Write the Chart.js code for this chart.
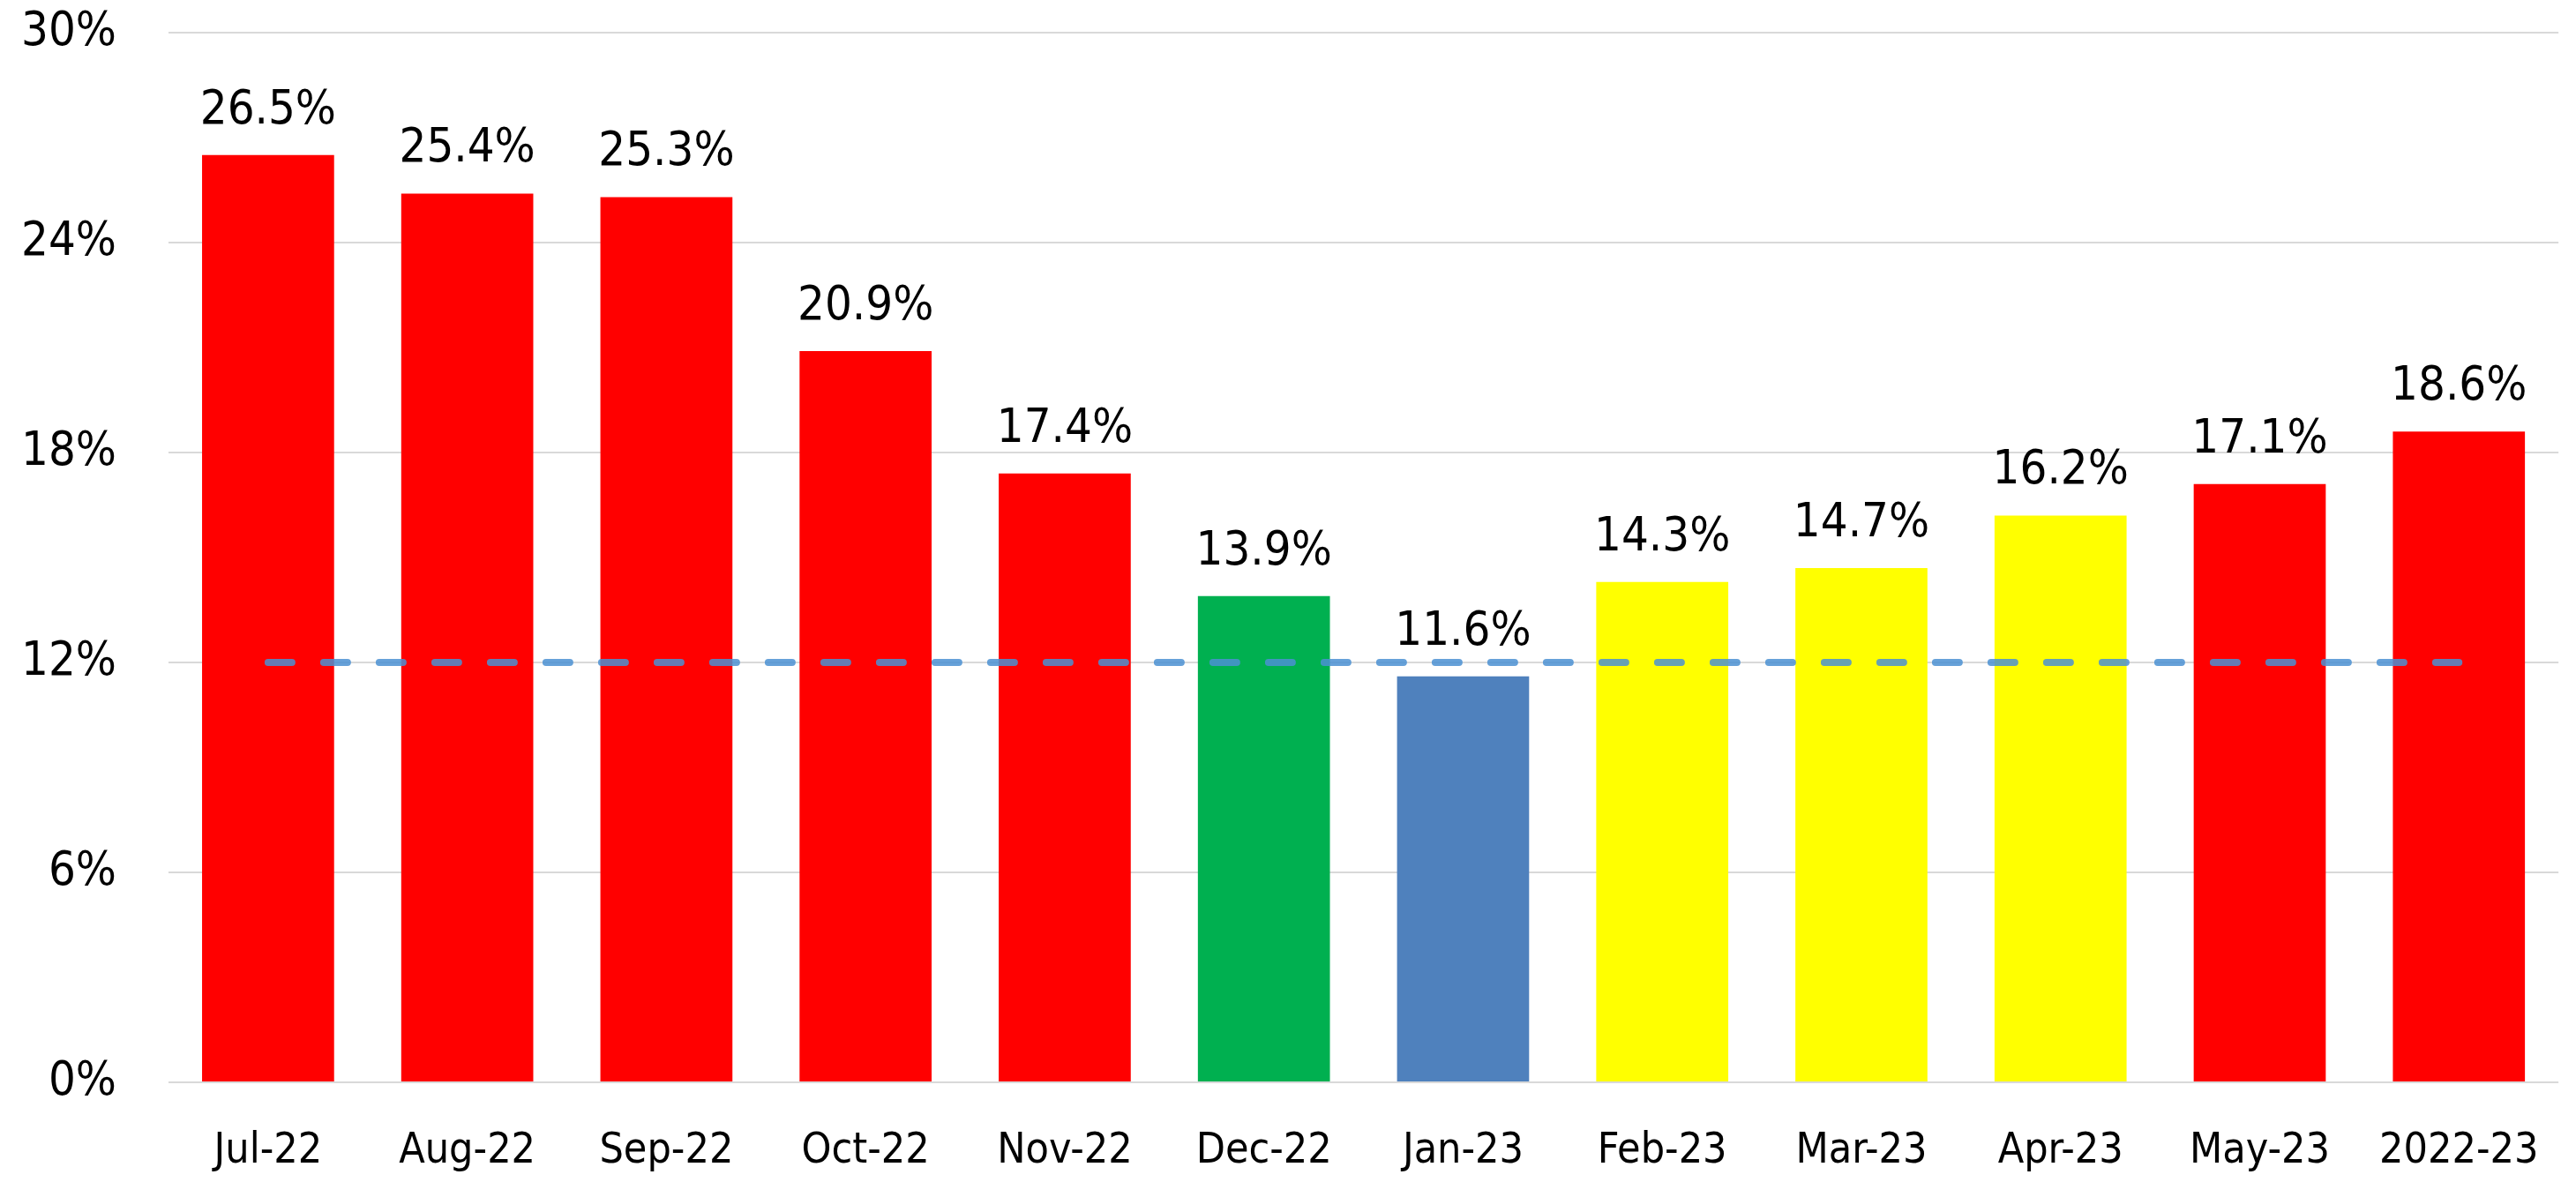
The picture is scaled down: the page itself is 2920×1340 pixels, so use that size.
<!DOCTYPE html>
<html>
<head>
<meta charset="utf-8">
<script src="https://cdn.jsdelivr.net/npm/chart.js@4.4.0/dist/chart.umd.min.js"></script>
<style>
  html, body { margin: 0; padding: 0; background: #fff; }
  #wrap { width: 2920px; height: 1340px; }
</style>
</head>
<body>
<div id="wrap"><canvas id="rateChart"></canvas></div>
<script>
// months + full year
const labels = ["Jul-22", "Aug-22", "Sep-22", "Oct-22", "Nov-22", "Dec-22", "Jan-23", "Feb-23", "Mar-23", "Apr-23", "May-23", "2022-23"];
const rates = [26.5, 25.4, 25.3, 20.9, 17.4, 13.9, 11.6, 14.3, 14.7, 16.2, 17.1, 18.6];
const barColors = ["#ff0000", "#ff0000", "#ff0000", "#ff0000", "#ff0000", "#00b050", "#4f81bd", "#ffff00", "#ffff00", "#ffff00", "#ff0000", "#ff0000"];
const target = [12, 12, 12, 12, 12, 12, 12, 12, 12, 12, 12, 12];
const yTicks = [0, 6, 12, 18, 24, 30];

const labelFont = '"DejaVu Sans Condensed", "Liberation Sans", sans-serif';
const xFont = '"Liberation Sans Narrow", "DejaVu Sans Condensed", sans-serif';

// draws the % value above every bar
const valueLabels = {
    id: "valueLabels",
    afterDatasetsDraw(chart) {
        const ctx = chart.ctx;
        const meta = chart.getDatasetMeta(1);
        ctx.save();
        ctx.font = "54px " + labelFont;
        ctx.fillStyle = "#000";
        ctx.textAlign = "center";
        ctx.textBaseline = "alphabetic";
        meta.data.forEach((bar, i) => {
            ctx.fillText(rates[i].toFixed(1) + "%", bar.x, bar.y - 36);
        });
        ctx.restore();
    }
};

let ctx = document.getElementById("rateChart").getContext("2d");
window.myChart = new Chart(ctx, {
    type: "bar",
    data: {
        labels: labels,
        datasets: [
            {
                type: "line",
                label: "Target",
                data: target,
                borderColor: "rgba(75,145,210,0.85)",
                borderWidth: 8,
                borderDash: [27, 36],
                borderCapStyle: "round",
                pointRadius: 0,
                fill: false,
                order: 0
            },
            {
                label: "Rate",
                data: rates,
                backgroundColor: barColors,
                barPercentage: 0.663,
                categoryPercentage: 1,
                order: 1
            }
        ]
    },
    options: {
        responsive: true,
        maintainAspectRatio: false,
        animation: false,
        layout: { padding: { top: 37, right: 13, bottom: 0, left: 0 } },
        plugins: {
            legend: { display: false },
            tooltip: { enabled: false }
        },
        scales: {
            x: {
                grid: { display: false },
                border: { display: false },
                ticks: {
                    color: "#000",
                    font: { family: xFont, size: 48 },
                    padding: 42,
                    maxRotation: 0,
                    autoSkip: false
                },
                afterFit: s => { s.height = 113; }
            },
            y: {
                min: 0,
                max: 30,
                grid: { color: "#d9d9d9", lineWidth: 2, drawTicks: false },
                border: { display: false },
                afterBuildTicks: s => { s.ticks = yTicks.map(v => ({ value: v })); },
                ticks: {
                    color: "#000",
                    font: { family: labelFont, size: 54 },
                    padding: 59,
                    callback: v => v + "%"
                },
                afterFit: s => {
                    s.width = 191;
                    s.paddingTop = 0;
                    s.paddingBottom = 0;
                }
            }
        }
    },
    plugins: [valueLabels]
});
</script>
</body>
</html>
